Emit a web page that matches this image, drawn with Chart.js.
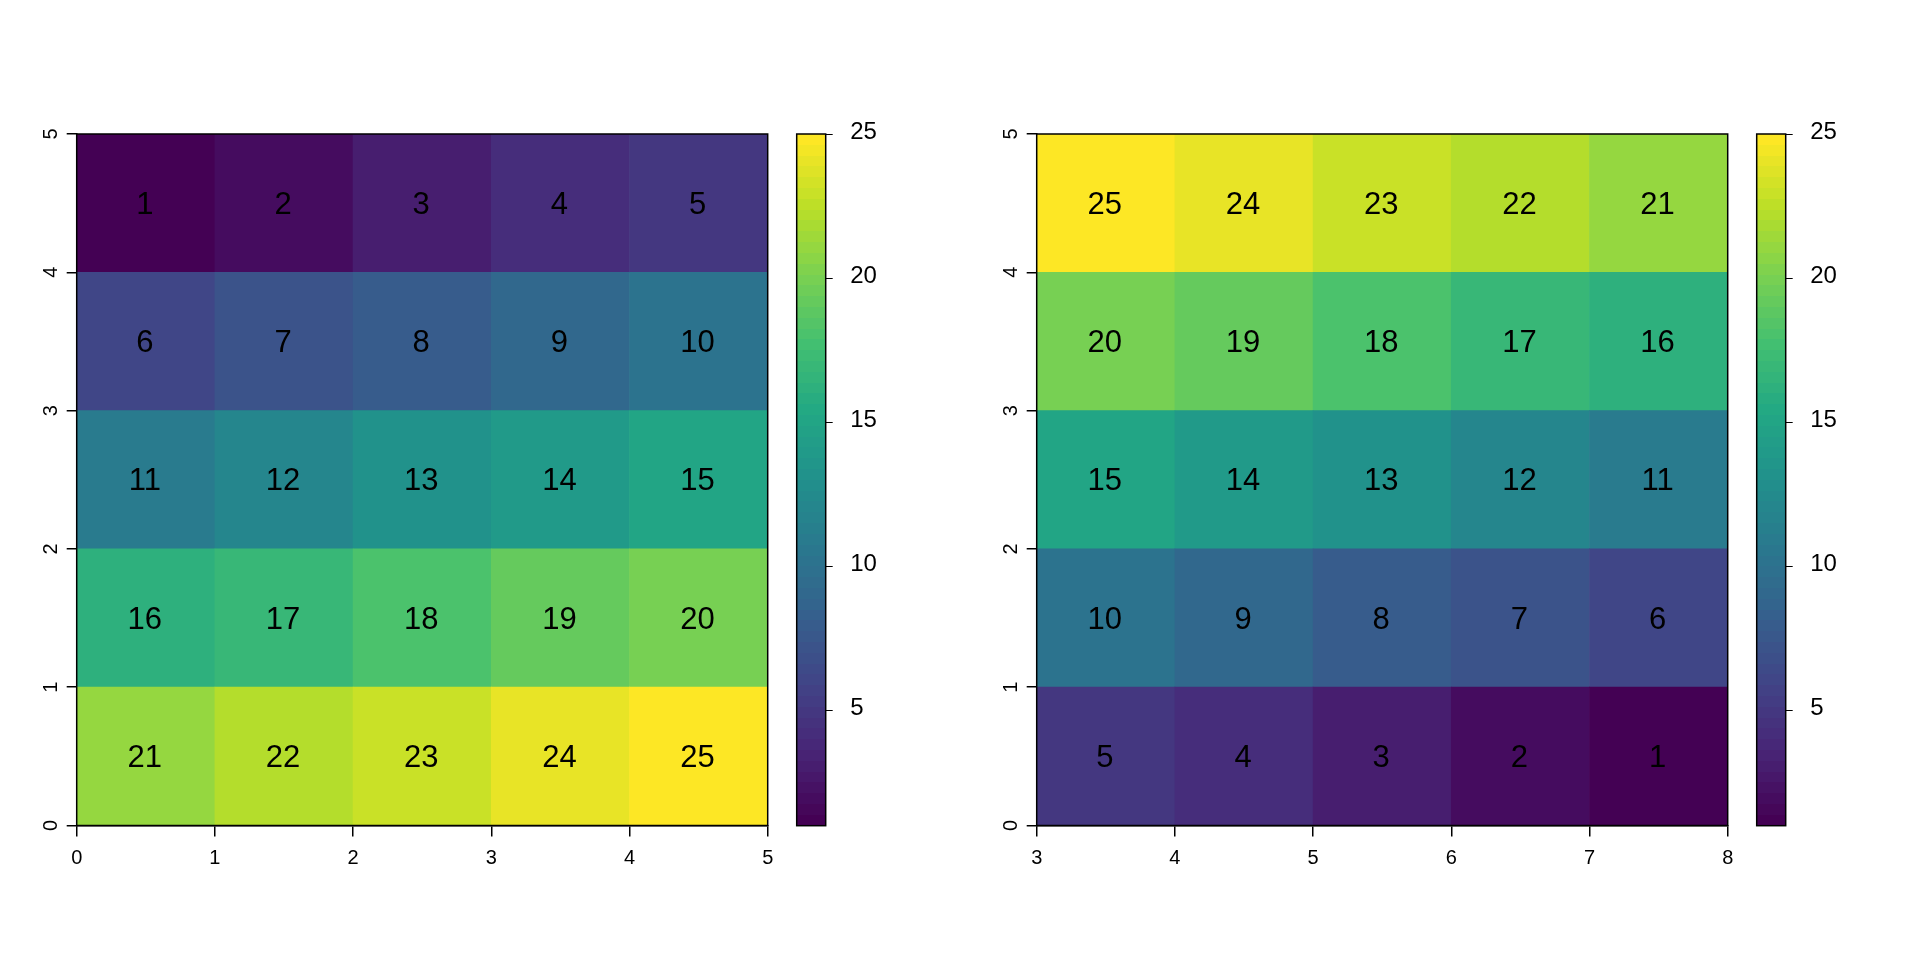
<!DOCTYPE html>
<html>
<head>
<meta charset="utf-8">
<script src="https://cdn.jsdelivr.net/npm/chart.js@4/dist/chart.umd.min.js"></script>
<style>
  html, body { margin: 0; padding: 0; background: #ffffff; }
  #wrap { position: relative; width: 1920px; height: 960px; overflow: hidden; background: #ffffff; }
  canvas { position: absolute; top: 0; }
</style>
</head>
<body>
<div id="wrap">
  <canvas id="heatL" width="800" height="960" style="left:0px;width:800px;height:960px"></canvas>
  <canvas id="barL" width="190" height="960" style="left:770px;width:190px;height:960px"></canvas>
  <canvas id="heatR" width="800" height="960" style="left:960px;width:800px;height:960px"></canvas>
  <canvas id="barR" width="190" height="960" style="left:1730px;width:190px;height:960px"></canvas>
</div>
<script>
// ---------------- data ----------------
const leftXTicks = [0, 1, 2, 3, 4, 5];
const rightXTicks = [3, 4, 5, 6, 7, 8];
const yTicks = [0, 1, 2, 3, 4, 5];
// rows listed from top (y 4-5) to bottom (y 0-1)
const leftRows = [
  [1, 2, 3, 4, 5],
  [6, 7, 8, 9, 10],
  [11, 12, 13, 14, 15],
  [16, 17, 18, 19, 20],
  [21, 22, 23, 24, 25]
];
const rightRows = [
  [25, 24, 23, 22, 21],
  [20, 19, 18, 17, 16],
  [15, 14, 13, 12, 11],
  [10, 9, 8, 7, 6],
  [5, 4, 3, 2, 1]
];
const zlim = [1, 25];
const colorbarTicks = [5, 10, 15, 20, 25];
const nLevels = 64;

// ---------------- palette ----------------
const viridisAnchors = ['#440154', '#482576', '#414487', '#35608D', '#2A788E', '#21908C',
                        '#22A884', '#43BF71', '#7AD151', '#BBDF27', '#FDE725'];
function hexToRgb(h) { return [parseInt(h.substr(1, 2), 16), parseInt(h.substr(3, 2), 16), parseInt(h.substr(5, 2), 16)]; }
function viridis(t) {
  t = Math.max(0, Math.min(1, t));
  const p = t * (viridisAnchors.length - 1);
  const i = Math.min(viridisAnchors.length - 2, Math.floor(p));
  const f = p - i;
  const a = hexToRgb(viridisAnchors[i]), b = hexToRgb(viridisAnchors[i + 1]);
  const c = a.map((v, k) => Math.round(v + (b[k] - v) * f));
  return 'rgb(' + c.join(',') + ')';
}
function levelColor(v) {
  const idx = Math.min(nLevels - 1, Math.floor((v - zlim[0]) / (zlim[1] - zlim[0]) * nLevels));
  return viridis(idx / (nLevels - 1));
}

const FONT = "'Liberation Sans', Arial, Helvetica, sans-serif";

const boxPlugin = {
  id: 'boxPlugin',
  afterDraw(chart) {
    const a = chart.chartArea, ctx = chart.ctx;
    ctx.save();
    ctx.strokeStyle = '#000';
    ctx.lineWidth = 1.5;
    ctx.strokeRect(a.left, a.top, a.right - a.left, a.bottom - a.top);
    ctx.restore();
  }
};

const cellLabelPlugin = {
  id: 'cellLabels',
  afterDatasetsDraw(chart) {
    const ctx = chart.ctx;
    ctx.save();
    ctx.fillStyle = '#000';
    ctx.font = '31px ' + FONT;
    ctx.textAlign = 'center';
    ctx.textBaseline = 'middle';
    chart.data.datasets.forEach((ds, di) => {
      const meta = chart.getDatasetMeta(di);
      meta.data.forEach((el, j) => {
        const cy = (el.y + el.base) / 2;
        ctx.fillText(String(ds.values[j]), el.x - 1, cy + 2);
      });
    });
    ctx.restore();
  }
};

function makeHeatmap(id, rows, xTicks) {
  const labels = xTicks.slice(0, -1).map((v, i) => v + '-' + xTicks[i + 1]);
  const datasets = [];
  const nRows = rows.length;
  for (let k = 0; k < nRows; k++) {          // k = 0 is the bottom row
    const vals = rows[nRows - 1 - k];
    datasets.push({
      values: vals,
      data: vals.map(() => [yTicks[k], yTicks[k + 1]]),
      backgroundColor: vals.map(levelColor),
      borderWidth: 0,
      barPercentage: 1,
      categoryPercentage: 1,
      grouped: false,
      xAxisID: 'x',
      yAxisID: 'y'
    });
  }
  new Chart(document.getElementById(id), {
    type: 'bar',
    data: { labels, datasets },
    options: {
      responsive: false,
      animation: false,
      devicePixelRatio: 1,
      layout: { padding: { top: 134, right: 32.3, left: 0, bottom: 74.5 } },
      plugins: { legend: { display: false }, tooltip: { enabled: false } },
      scales: {
        x: { type: 'category', display: false, offset: true },
        x2: {
          type: 'linear', position: 'bottom', axis: 'x', offset: false,
          min: xTicks[0], max: xTicks[xTicks.length - 1],
          afterBuildTicks(s) { s.ticks = xTicks.map(v => ({ value: v })); },
          afterFit(s) { s.height = 60; },
          grid: { offset: false, drawOnChartArea: false, drawTicks: true, tickLength: 11, color: '#000', lineWidth: 1.5 },
          border: { display: true, color: '#000', width: 1.5 },
          ticks: { color: '#000', font: { family: FONT, size: 20 }, padding: 9.5, maxRotation: 0, autoSkip: false }
        },
        y: {
          type: 'linear', position: 'left', min: yTicks[0], max: yTicks[yTicks.length - 1],
          afterBuildTicks(s) { s.ticks = yTicks.map(v => ({ value: v })); },
          afterFit(s) { s.width = 76.7; },
          grid: { drawOnChartArea: false, drawTicks: true, tickLength: 10, color: '#000', lineWidth: 1.5 },
          border: { display: true, color: '#000', width: 1.5 },
          ticks: { color: '#000', font: { family: FONT, size: 20 }, padding: 10, minRotation: 90, maxRotation: 90, crossAlign: 'center', autoSkip: false }
        }
      }
    },
    plugins: [cellLabelPlugin, boxPlugin]
  });
}

function makeColorbar(id) {
  new Chart(document.getElementById(id), {
    type: 'bar',
    data: {
      labels: ['z'],
      datasets: [{
        data: [[zlim[0], zlim[1]]],
        backgroundColor(context) {
          const area = context.chart.chartArea;
          if (!area) return '#888';
          const g = context.chart.ctx.createLinearGradient(0, area.bottom, 0, area.top);
          for (let i = 0; i < nLevels; i++) {
            const c = viridis(i / (nLevels - 1));
            g.addColorStop(i / nLevels, c);
            g.addColorStop((i + 1) / nLevels, c);
          }
          return g;
        },
        borderWidth: 0,
        barPercentage: 1,
        categoryPercentage: 1
      }]
    },
    options: {
      responsive: false,
      animation: false,
      devicePixelRatio: 1,
      layout: { padding: { top: 134, right: 0, left: 26.7, bottom: 134.3 } },
      plugins: { legend: { display: false }, tooltip: { enabled: false } },
      scales: {
        x: { type: 'category', display: false, offset: true },
        y: {
          type: 'linear', position: 'right', min: zlim[0], max: zlim[1], z: 1,
          afterBuildTicks(s) { s.ticks = colorbarTicks.map(v => ({ value: v })); },
          afterFit(s) { s.width = 134.3; },
          grid: { drawOnChartArea: true, drawTicks: true, tickLength: 7, color: '#000', lineWidth: 1 },
          border: { display: false },
          ticks: { color: '#000', font: { family: FONT, size: 24 }, padding: 17.5, labelOffset: -2, autoSkip: false }
        }
      }
    },
    plugins: [boxPlugin]
  });
}

makeHeatmap('heatL', leftRows, leftXTicks);
makeColorbar('barL');
makeHeatmap('heatR', rightRows, rightXTicks);
makeColorbar('barR');
</script>
</body>
</html>
